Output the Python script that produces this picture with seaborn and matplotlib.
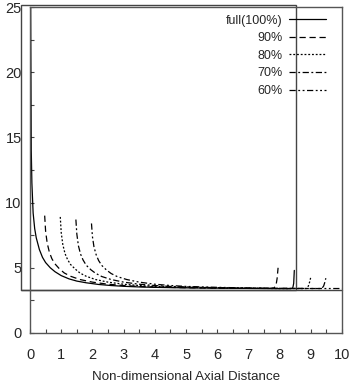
import matplotlib
matplotlib.use("Agg")
import matplotlib.pyplot as plt
from matplotlib.patches import Rectangle
from matplotlib.ticker import MultipleLocator
import seaborn as sns

# curve values
full_x = [0.02, 0.04, 0.06, 0.1, 0.15, 0.2, 0.3, 0.4, 0.5, 0.65, 0.8, 1.0, 1.25, 1.5,
          1.8, 2.2, 2.6, 3.0, 3.5, 4.0, 5.0, 6.0, 7.0, 8.0, 8.35, 8.42, 8.45, 8.47]
full_y = [25.5, 14.0, 11.5, 9.2, 8.0, 7.3, 6.4, 5.8, 5.4, 5.0, 4.7, 4.4, 4.15, 3.98,
          3.85, 3.72, 3.64, 3.58, 3.53, 3.5, 3.46, 3.44, 3.42, 3.4, 3.4, 3.45, 3.8, 4.8]

p90_x = [0.47, 0.5, 0.55, 0.62, 0.7, 0.8, 0.95, 1.1, 1.3, 1.6, 2.0, 2.5, 3.0, 3.5,
         4.0, 5.0, 6.0, 7.0, 7.8, 7.88, 7.92, 7.95]
p90_y = [9.0, 7.8, 6.9, 6.2, 5.7, 5.3, 4.9, 4.6, 4.35, 4.1, 3.9, 3.74, 3.64, 3.57,
         3.52, 3.47, 3.44, 3.42, 3.42, 3.6, 4.2, 5.0]

p80_x = [0.97, 1.0, 1.05, 1.12, 1.2, 1.3, 1.45, 1.6, 1.8, 2.1, 2.5, 3.0, 3.5, 4.0,
         5.0, 6.0, 7.0, 8.0, 8.85, 8.92, 8.96, 9.0]
p80_y = [8.9, 7.7, 6.8, 6.1, 5.65, 5.25, 4.9, 4.6, 4.35, 4.1, 3.9, 3.74, 3.64, 3.57,
         3.5, 3.45, 3.43, 3.41, 3.41, 3.6, 3.9, 4.3]

p70_x = [1.47, 1.5, 1.55, 1.62, 1.7, 1.8, 1.95, 2.1, 2.3, 2.6, 3.0, 3.5, 4.0, 4.5,
         5.5, 6.5, 7.5, 8.5, 9.35, 9.41, 9.45, 9.48]
p70_y = [8.7, 7.6, 6.7, 6.05, 5.6, 5.2, 4.85, 4.58, 4.33, 4.1, 3.9, 3.74, 3.64, 3.57,
         3.5, 3.45, 3.43, 3.41, 3.41, 3.6, 3.9, 4.2]

p60_x = [1.97, 2.0, 2.05, 2.12, 2.2, 2.3, 2.45, 2.6, 2.8, 3.1, 3.5, 4.0, 4.5, 5.0,
         6.0, 7.0, 8.0, 9.0, 10.0]
p60_y = [8.4, 7.4, 6.6, 6.0, 5.55, 5.18, 4.83, 4.56, 4.32, 4.1, 3.9, 3.74, 3.64, 3.57,
         3.5, 3.45, 3.43, 3.41, 3.41]

labels = ["full(100%)", "90%", "80%", "70%", "60%"]
curves = [(full_x, full_y), (p90_x, p90_y), (p80_x, p80_y), (p70_x, p70_y), (p60_x, p60_y)]
dashes = [(None, None), (5, 3), (1.5, 1.5), (5, 2, 1.5, 2), (5, 2, 1.5, 2, 1.5, 2)]

sns.set_style("ticks")
plt.rcParams['font.family'] = ['Liberation Sans', 'DejaVu Sans']
plt.rcParams['font.size'] = 9

fig = plt.figure(figsize=(3.51, 3.89), dpi=100)
ax = fig.add_axes([0.0855, 0.144, 0.889, 0.838])

for (xs, ys), lab, d in zip(curves, labels, dashes):
    sns.lineplot(x=xs, y=ys, ax=ax, sort=False, color="black", lw=0.9,
                 label=lab, estimator=None)
    if d[0] is not None:
        ax.get_lines()[-1].set_dashes(d)

# duct outline and baseline
ax.add_patch(Rectangle((-0.29, 3.3), 8.82, 21.85, fill=False, ec="#444444",
                       lw=1.0, clip_on=False, zorder=1))
ax.plot([-0.29, 10], [3.3, 3.3], color="#444444", lw=1.0, clip_on=False, zorder=1)

ax.set_xlim(0, 10)
ax.set_ylim(0, 25)
ax.xaxis.set_major_locator(MultipleLocator(1))
ax.xaxis.set_minor_locator(MultipleLocator(0.5))
ax.yaxis.set_major_locator(MultipleLocator(5))
ax.yaxis.set_minor_locator(MultipleLocator(2.5))
ax.tick_params(which="both", direction="in", length=3, width=0.8, color="#444444",
               bottom=True, left=True, top=False, right=False)
ax.tick_params(axis="x", which="major", pad=11, labelsize=10.5)
ax.tick_params(axis="y", which="major", pad=6, labelsize=10.5)
for s in ax.spines.values():
    s.set_color("#555555")
    s.set_linewidth(1.0)

ax.set_xlabel("Non-dimensional Axial Distance", fontsize=9.6, labelpad=6)

leg = ax.legend(loc="upper right", bbox_to_anchor=(0.965, 0.992), frameon=False,
                markerfirst=False, handlelength=3.0, handletextpad=0.5,
                labelspacing=0.45, fontsize=9, borderaxespad=0)

fig.savefig("out.png", dpi=100)
